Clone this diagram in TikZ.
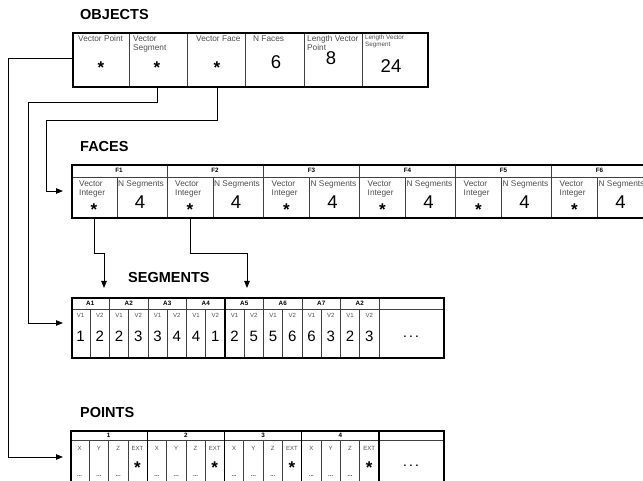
\documentclass[tikz,border=0pt]{standalone}
\usepackage{fontspec}
\setmainfont{Liberation Sans}
\usetikzlibrary{arrows.meta}
\begin{document}
\begin{tikzpicture}[x=1pt,y=-1pt,
  title/.style={font=\bfseries\fontsize{14.5}{15}\selectfont, anchor=west, inner sep=0},
  lbl/.style={font=\fontsize{8.3}{8.6}\selectfont, text=black!70, align=left, inner sep=0, anchor=north west},
  slbl/.style={font=\fontsize{6.3}{7}\selectfont, text=black!70, align=left, inner sep=0, anchor=north west},
  tinylbl/.style={font=\fontsize{6}{6}\selectfont, text=black!70, inner sep=0},
  hdr/.style={font=\bfseries\fontsize{6.3}{6.5}\selectfont, inner sep=0},
  big/.style={font=\fontsize{18.5}{18.5}\selectfont, inner sep=0},
  mid/.style={font=\fontsize{15}{15}\selectfont, inner sep=0},
  starn/.style={font=\bfseries\fontsize{17}{17}\selectfont, inner sep=0},
  dots/.style={font=\bfseries\fontsize{10}{10}\selectfont, inner sep=0},
  box/.style={draw, line width=1.8pt, anchor=north west, inner sep=0},
  div/.style={draw=black!75, line width=0.7pt},
  tdiv/.style={draw=black, line width=1.4pt},
  conn/.style={line width=0.8pt},
  arr/.style={-{Triangle[length=7pt,width=5.5pt]}}
]
\useasboundingbox (0,0) rectangle (643,481);
\clip (0,0) rectangle (643,481);

% ---------------- OBJECTS ----------------
\node[title] (tobj) at (80,15) {OBJECTS};
\foreach \x in {129,187,245,304,362} \draw[div] (\x,32) -- (\x,86);
\node[box, minimum width=355, minimum height=54] (objbox) at (72,32) {};
\node[lbl] (lvp) at (78,35.5) {Vector Point};
\node[lbl] (lvs) at (133,35.5) {Vector\\Segment};
\node[lbl] (lvf) at (196,35.5) {Vector Face};
\node[lbl] (lnf) at (253,35.5) {N Faces};
\node[lbl] (llp) at (307,35.5) {Length Vector\\Point};
\node[slbl] (lls) at (365,34.5) {Length Vector\\Segment};
\node[starn] (vpstar) at (101,68) {*};
\node[starn] (vsstar) at (157,68) {*};
\node[starn] (vfstar) at (217,68) {*};
\node[big] (nf) at (276,62) {6};
\node[big] (lvpn) at (331,58) {8};
\node[big] (lvsn) at (391,66) {24};

% ---------------- FACES ----------------
\node[title] (tfac) at (80,147) {FACES};
\draw[div] (71,177) -- (647,177);
\foreach \s/\n [count=\i] in {71/F1,167/F2,263.5/F3,359.5/F4,455.5/F5,551.5/F6}{
  \ifnum\i>1 \draw[div] (\s,164) -- (\s,217); \fi
  \draw[div] (\s+46,177) -- (\s+46,217);
  \node[hdr] (fh\i) at (\s+48,170.5) {\n};
  \node[lbl] (fvi\i) at (\s+8,180.5) {Vector\\Integer};
  \node[starn] (fstar\i) at (\s+23,210) {*};
  \node[lbl] (fns\i) at (\s+47,180.5) {N Segments};
  \node[big] (fn\i) at (\s+69,202) {4};
}
\node[box, minimum width=576, minimum height=53] (facesbox) at (71,164) {};

% ---------------- SEGMENTS ----------------
\node[title] (tseg) at (128,278) {SEGMENTS};
\draw[div] (71,309) -- (443,309);
\foreach \n/\a/\b [count=\i from 0] in {A1/1/2,A2/2/3,A3/3/4,A4/4/1,A5/2/5,A6/5/6,A7/6/3,A2/2/3}{
  \pgfmathsetmacro{\s}{71+38.5*\i}
  \ifnum\i>0 \draw[div] (\s,297) -- (\s,357); \fi
  \draw[div] (\s+19.25,309) -- (\s+19.25,357);
  \node[hdr] (sh\i) at (\s+19.25,303) {\n};
  \node[tinylbl] (sva\i) at (\s+9.6,315.5) {V1};
  \node[tinylbl] (svb\i) at (\s+28.9,315.5) {V2};
  \node[mid] (sna\i) at (\s+9.6,336) {\a};
  \node[mid] (snb\i) at (\s+28.9,336) {\b};
}
\draw[div] (379,297) -- (379,357);
\draw[tdiv] (225,297) -- (225,357);
\node[dots] (sdots) at (411,337) {.\,\,.\,\,.};
\node[box, minimum width=372, minimum height=60] (segbox) at (71,297) {};

% ---------------- POINTS ----------------
\node[title] (tpts) at (80,413) {POINTS};
\draw[div] (70,440) -- (443,440);
\foreach \n [count=\i from 0] in {1,2,3,4}{
  \pgfmathsetmacro{\s}{70+77.25*\i}
  \ifnum\i>0 \draw[tdiv] (\s,430) -- (\s,495); \fi
  \foreach \c/\t [count=\j from 0] in {X/X,Y/Y,Z/Z,E/EXT}{
    \pgfmathsetmacro{\cx}{\s+19.3*\j+9.65}
    \ifnum\j>0 \draw[div] (\s+19.3*\j,440) -- (\s+19.3*\j,495); \fi
    \node[tinylbl] (p\c\i) at (\cx,448) {\t};
  }
  \node[hdr] (ph\i) at (\s+38.6,435) {\n};
  \node[starn] (pstar\i) at (\s+67.5,468) {*};
  \foreach \j in {0,1,2}{
    \node[tinylbl] (pd\i\j) at (\s+19.3*\j+9.65,476) {\textbf{...}};
  }
}
\draw[tdiv] (379,430) -- (379,495);
\node[dots] (pdots) at (411,466) {.\,\,.\,\,.};
\node[box, minimum width=373, minimum height=65] (ptsbox) at (70,430) {};

% ---------------- CONNECTORS ----------------
\coordinate (railA) at (8,58);
\coordinate (railB) at (28,102);
\coordinate (railC) at (46,120);
\coordinate (facesin) at (63,191);
\coordinate (segin) at (63,323);
\coordinate (ptsin) at (63,457);
\coordinate (segA) at (104,288);
\coordinate (segB) at (247,288);
\coordinate (fbend) at (0,253);

\draw[conn,arr] (objbox.west |- railA) -- (railA) -- (railA |- ptsin) -- (ptsin);
\draw[conn,arr] (vsstar |- objbox.south) |- (railB) -- (railB |- segin) -- (segin);
\draw[conn,arr] (vfstar |- objbox.south) |- (railC) -- (railC |- facesin) -- (facesin);
\draw[conn,arr] (fstar1 |- facesbox.south) -- (fstar1 |- fbend) -| (segA);
\draw[conn,arr] (fstar2 |- facesbox.south) -- (fstar2 |- fbend) -| (segB);
\end{tikzpicture}
\end{document}
